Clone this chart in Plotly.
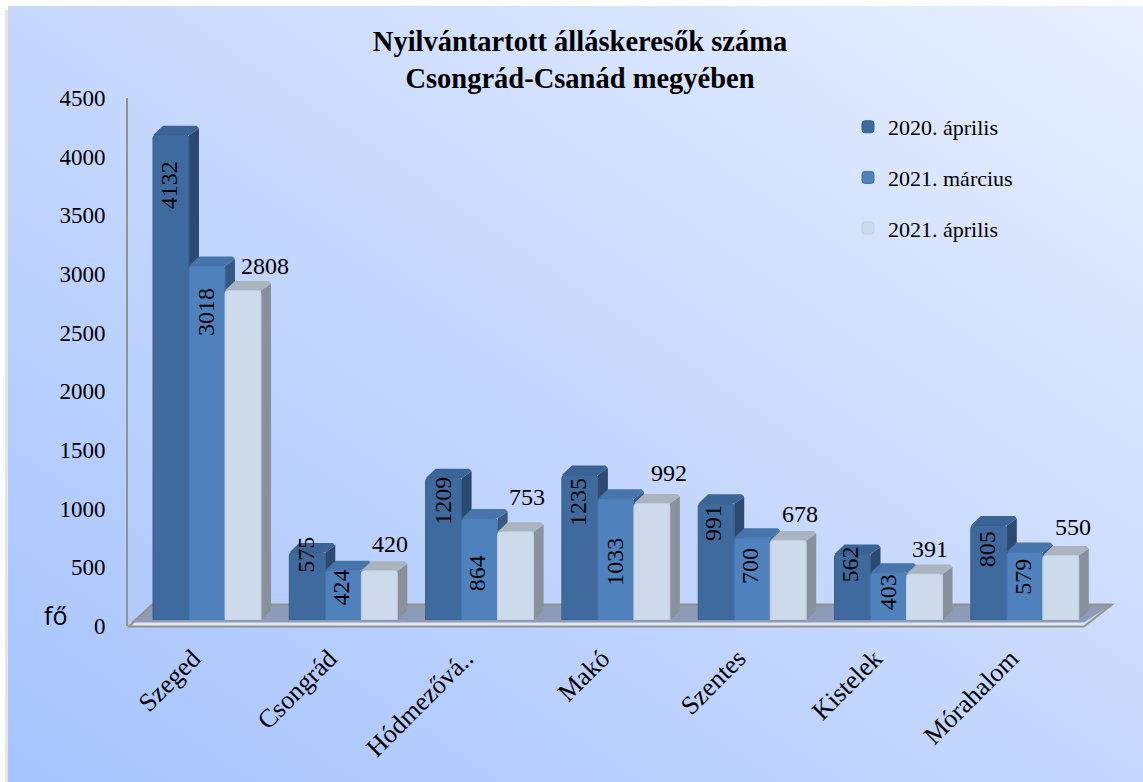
import base64
import plotly.graph_objects as go

categories = ["Szeged", "Csongrád", "Hódmezővá..", "Makó", "Szentes", "Kistelek", "Mórahalom"]
series_names = ["2020. április", "2021. március", "2021. április"]
values_2020_apr = [4132, 575, 1209, 1235, 991, 562, 805]
values_2021_mar = [3018, 424, 864, 1033, 700, 403, 579]
values_2021_apr = [2808, 420, 753, 992, 678, 391, 550]
y_ticks = [0, 500, 1000, 1500, 2000, 2500, 3000, 3500, 4000, 4500]

W, H = 1143, 782
L, R = 128, 1113      # plot area in px
BAR_BASE, BAR_TOP = 620, 92
AX_BASE, AX_TOP = 626, 98
group_px = 136.3
first_center_px = 207
x_range = [-(first_center_px - L) / group_px, (R - first_center_px) / group_px]
y_max = 4500
px_per_val = (BAR_BASE - BAR_TOP) / y_max
bar_w = 36 / group_px
dx_d = 10 / group_px
dy_d = 9.5 / px_per_val
cx_d = 2.5 / group_px
cy_d = 2.5 / px_per_val

FRONT = ["#3f6a9e", "#4f81bd", "#cddaea"]
FRONT_EDGE = ["#375d8c", "#4674ab", "#bfcde0"]
SIDE = ["#2b4a70", "#375a85", "#88909b"]
TOP = ["#3a6496", "#4674ab", "#a9b4be"]
FONT = "Liberation Serif"

svg = f'''<svg xmlns="http://www.w3.org/2000/svg" width="{W}" height="{H}">
<defs><linearGradient id="g" x1="0" y1="1" x2="1" y2="0">
<stop offset="0" stop-color="#a6c4fd"/><stop offset="0.5" stop-color="#c6d8fd"/><stop offset="1" stop-color="#e8f0ff"/>
</linearGradient></defs><rect x="0" y="0" width="{W}" height="{H}" fill="#ffffff"/>
<rect x="5" y="10" width="4" height="{H-10}" fill="#e6e6e6"/>
<rect x="8" y="6" width="{W-8}" height="{H-6}" fill="url(#g)"/></svg>'''
bg = "data:image/svg+xml;base64," + base64.b64encode(svg.encode()).decode()

all_values = [values_2020_apr, values_2021_mar, values_2021_apr]
x_pos = list(range(len(categories)))

fig = go.Figure()
for s, (name, vals) in enumerate(zip(series_names, all_values)):
    fig.add_trace(go.Bar(
        x=x_pos, y=vals, name=name, legendgroup=name,
        marker=dict(color=FRONT[s], line=dict(color=FRONT_EDGE[s], width=1)),
        hoverinfo="name+y",
    ))
# trace on the labelled axis so it is kept
fig.add_trace(go.Scatter(x=[0], y=[0], yaxis="y2", mode="markers",
                         marker=dict(opacity=0), showlegend=False, hoverinfo="skip"))

shapes = []
def poly(xref, yref, pts, fill, layer="below", line=None):
    path = "M " + " L ".join(f"{a} {b}" for a, b in pts) + " Z"
    return dict(type="path", path=path, xref=xref, yref=yref, fillcolor=fill, layer=layer,
                line=dict(width=line[1], color=line[0]) if line else dict(width=0))

def px_x(p): return p / W
def px_y(p): return 1 - p / H

# floor
shapes.append(poly("paper", "paper", [(px_x(a), px_y(b)) for a, b in
              [(130, 623), (152, 605), (1111, 605), (1083, 623)]], "#8e9bb7"))
shapes.append(poly("paper", "paper", [(px_x(a), px_y(b)) for a, b in
              [(130, 622.5), (1084, 622.5), (1084, 626), (130, 626)]], "#e0e7f8"))
shapes.append(dict(type="path", xref="paper", yref="paper", layer="below", fillcolor="rgba(0,0,0,0)",
                   line=dict(color="#93938c", width=2),
                   path="M " + " L ".join(f"{px_x(a)} {px_y(b)}" for a, b in
                        [(129, 626.5), (1084, 626.5), (1112, 604.5), (152, 604.5)]) + " Z"))

for s, vals in enumerate(all_values):
    for i, v in enumerate(vals):
        x0 = i + (s - 1.5) * bar_w
        x1 = x0 + bar_w
        shapes.append(poly("x", "y", [(x1, 0), (x1, v), (x1 + dx_d, v + dy_d - cy_d), (x1 + dx_d, dy_d)], SIDE[s]))
        shapes.append(poly("x", "y", [(x0, v), (x1, v), (x1 + dx_d, v + dy_d - cy_d),
                                      (x1 + dx_d - cx_d, v + dy_d), (x0 + dx_d, v + dy_d)], TOP[s]))

# data labels: nudges in px relative to the top centre of each bar
nudge_x = [[-2, -2, 0, -2, -3, -2, -2], [-1, -2, -3, -1, -2, -1, -2], [22, 11, 11, 17, 12, 5, 12]]
nudge_y = [[50, 2, 23, 27, 19, 11, 24], [46, 17, 55, 63, 28, 20, 25], [-25, -27, -35, -31, -26, -25, -28]]
annotations = []
for s, vals in enumerate(all_values):
    for i, v in enumerate(vals):
        annotations.append(dict(
            x=i + (s - 1) * bar_w, y=v, xref="x", yref="y", text=str(v), showarrow=False,
            xshift=nudge_x[s][i], yshift=-nudge_y[s][i], textangle=-90 if s < 2 else 0,
            font=dict(family=FONT, size=24, color="#000000"), xanchor="center", yanchor="middle"))

annotations.append(dict(text="fő", x=55 / W, y=px_y(615), xref="paper", yref="paper", showarrow=False,
                        xanchor="center", yanchor="middle",
                        font=dict(family="Open Sans", size=25, color="#000000")))

fig.update_layout(
    width=W, height=H, autosize=False,
    margin=dict(l=0, r=0, t=0, b=0, pad=0, autoexpand=False),
    paper_bgcolor="rgba(0,0,0,0)", plot_bgcolor="rgba(0,0,0,0)",
    barmode="group", bargap=1 - 3 * bar_w, bargroupgap=0, barcornerradius=3,
    font=dict(family=FONT, color="#000000"),
    images=[dict(source=bg, xref="paper", yref="paper", x=0, y=1, sizex=1, sizey=1,
                 sizing="stretch", xanchor="left", yanchor="top", layer="below")],
    shapes=shapes, annotations=annotations,
    title=dict(text="<b>Nyilvántartott álláskeresők száma<br>Csongrád-Csanád megyében</b>",
               x=580 / W, xanchor="center", y=1 - 51 / H, yanchor="middle",
               font=dict(family=FONT, size=28.5, color="#000000")),
    xaxis=dict(domain=[L / W, R / W], range=x_range, tickmode="array", tickvals=x_pos, ticktext=categories,
               tickangle=-45, tickfont=dict(family=FONT, size=26), showgrid=False, zeroline=False,
               showline=False, ticks="", anchor="y2", ticklabelstandoff=11, ticklabelshift=-14, automargin=False),
    yaxis=dict(domain=[1 - BAR_BASE / H, 1 - BAR_TOP / H], range=[0, y_max], visible=False, fixedrange=True,
               automargin=False),
    yaxis2=dict(domain=[1 - AX_BASE / H, 1 - AX_TOP / H], range=[0, y_max], tickmode="array", tickvals=y_ticks,
                tickfont=dict(family=FONT, size=23), showgrid=False, zeroline=False, anchor="x", side="left",
                showline=True, linecolor="#93938c", linewidth=2, ticks="", ticklabelstandoff=16, automargin=False),
    legend=dict(x=848 / W, y=1 - 106 / H, xanchor="left", yanchor="top", bgcolor="rgba(0,0,0,0)",
                tracegroupgap=19, font=dict(family=FONT, size=22), traceorder="grouped", itemwidth=30),
)
fig.write_html("out.html", post_script="document.body.style.margin='0';", config={"displayModeBar": False})
